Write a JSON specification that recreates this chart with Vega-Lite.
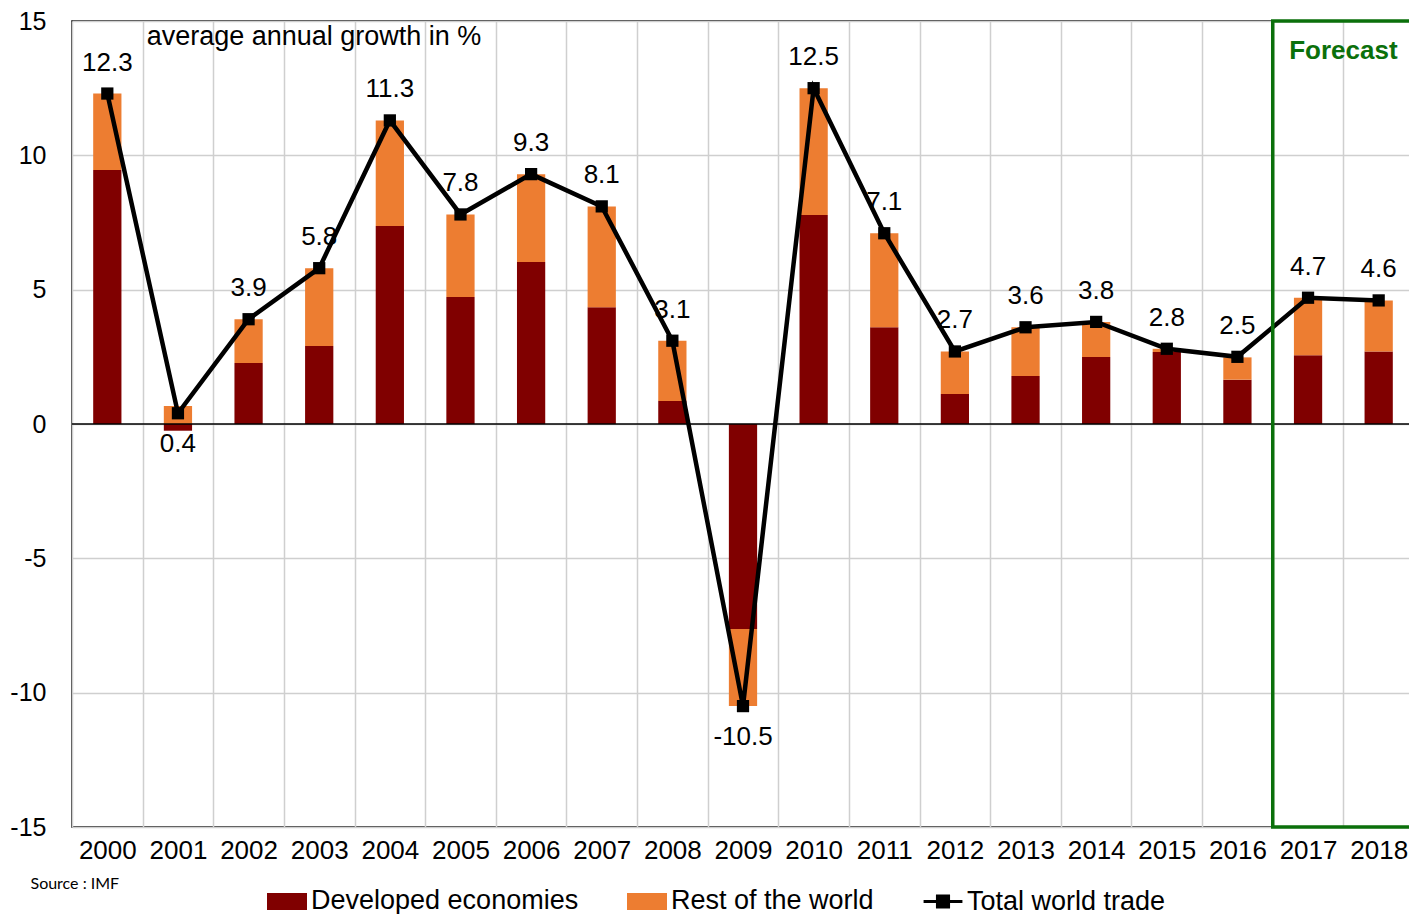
{
  "$schema": "https://vega.github.io/schema/vega-lite/v6.json",
  "autosize": {"type": "none"},
  "padding": {"left": 72, "top": 21, "right": 0, "bottom": 87},
  "width": 1342,
  "height": 806,
  "background": "white",
  "config": {
    "font": "Liberation Sans",
    "view": {"stroke": "black", "strokeWidth": 1.5},
    "axis": {"labelColor": "black", "labelFont": "Liberation Sans"}
  },
  "datasets": {
    "bars": [
      {"year": "2000", "series": "Developed economies", "value": 9.45},
      {"year": "2000", "series": "Rest of the world", "value": 2.85},
      {"year": "2001", "series": "Developed economies", "value": -0.25},
      {"year": "2001", "series": "Rest of the world", "value": 0.67},
      {"year": "2002", "series": "Developed economies", "value": 2.27},
      {"year": "2002", "series": "Rest of the world", "value": 1.63},
      {"year": "2003", "series": "Developed economies", "value": 2.9},
      {"year": "2003", "series": "Rest of the world", "value": 2.9},
      {"year": "2004", "series": "Developed economies", "value": 7.37},
      {"year": "2004", "series": "Rest of the world", "value": 3.93},
      {"year": "2005", "series": "Developed economies", "value": 4.73},
      {"year": "2005", "series": "Rest of the world", "value": 3.07},
      {"year": "2006", "series": "Developed economies", "value": 6.03},
      {"year": "2006", "series": "Rest of the world", "value": 3.27},
      {"year": "2007", "series": "Developed economies", "value": 4.35},
      {"year": "2007", "series": "Rest of the world", "value": 3.75},
      {"year": "2008", "series": "Developed economies", "value": 0.86},
      {"year": "2008", "series": "Rest of the world", "value": 2.24},
      {"year": "2009", "series": "Developed economies", "value": -7.63},
      {"year": "2009", "series": "Rest of the world", "value": -2.87},
      {"year": "2010", "series": "Developed economies", "value": 7.78},
      {"year": "2010", "series": "Rest of the world", "value": 4.72},
      {"year": "2011", "series": "Developed economies", "value": 3.6},
      {"year": "2011", "series": "Rest of the world", "value": 3.5},
      {"year": "2012", "series": "Developed economies", "value": 1.12},
      {"year": "2012", "series": "Rest of the world", "value": 1.58},
      {"year": "2013", "series": "Developed economies", "value": 1.79},
      {"year": "2013", "series": "Rest of the world", "value": 1.81},
      {"year": "2014", "series": "Developed economies", "value": 2.49},
      {"year": "2014", "series": "Rest of the world", "value": 1.31},
      {"year": "2015", "series": "Developed economies", "value": 2.68},
      {"year": "2015", "series": "Rest of the world", "value": 0.12},
      {"year": "2016", "series": "Developed economies", "value": 1.65},
      {"year": "2016", "series": "Rest of the world", "value": 0.83},
      {"year": "2017", "series": "Developed economies", "value": 2.56},
      {"year": "2017", "series": "Rest of the world", "value": 2.14},
      {"year": "2018", "series": "Developed economies", "value": 2.7},
      {"year": "2018", "series": "Rest of the world", "value": 1.9}
    ],
    "totals": [
      {"year": "2000", "total": 12.3},
      {"year": "2001", "total": 0.4},
      {"year": "2002", "total": 3.9},
      {"year": "2003", "total": 5.8},
      {"year": "2004", "total": 11.3},
      {"year": "2005", "total": 7.8},
      {"year": "2006", "total": 9.3},
      {"year": "2007", "total": 8.1},
      {"year": "2008", "total": 3.1},
      {"year": "2009", "total": -10.5},
      {"year": "2010", "total": 12.5},
      {"year": "2011", "total": 7.1},
      {"year": "2012", "total": 2.7},
      {"year": "2013", "total": 3.6},
      {"year": "2014", "total": 3.8},
      {"year": "2015", "total": 2.8},
      {"year": "2016", "total": 2.5},
      {"year": "2017", "total": 4.7},
      {"year": "2018", "total": 4.6}
    ]
  },
  "layer": [
    {
      "data": {"name": "bars"},
      "mark": {"type": "bar", "width": {"band": 0.4}},
      "encoding": {
        "x": {
          "field": "year", "type": "nominal", "sort": null,
          "scale": {"paddingInner": 0, "paddingOuter": 0},
          "axis": {
            "title": "Source : IMF",
            "titleX": -42, "titleY": 56, "titleAlign": "left", "titleBaseline": "middle",
            "titleFont": "Lato", "titleFontSize": 16, "titleFontWeight": "normal", "titleColor": "black",
            "labelAngle": 0, "labelFontSize": 26, "labelPadding": 10,
            "ticks": false, "domain": false, "tickBand": "extent",
            "grid": true, "gridColor": "#CFCFCF", "gridWidth": 1.5
          }
        },
        "y": {
          "field": "value", "type": "quantitative", "stack": "zero",
          "scale": {"domain": [-15, 15], "nice": false},
          "axis": {
            "title": null, "values": [-15, -10, -5, 0, 5, 10, 15],
            "labelExpr": "replace(datum.label, '\u2212', '-')",
            "labelFontSize": 25, "labelPadding": 26, "ticks": false, "domain": false,
            "grid": true, "gridColor": "#CFCFCF", "gridWidth": 1.5
          }
        },
        "color": {
          "field": "series", "type": "nominal",
          "scale": {
            "domain": ["Developed economies", "Rest of the world", "Total world trade"],
            "range": ["#800000", "#ED7D31", "#000000"]
          },
          "legend": {
            "title": null, "orient": "none", "direction": "horizontal",
            "legendX": 195, "legendY": 860, "padding": 0,
            "labelFontSize": 27, "labelFont": "Liberation Sans", "labelColor": "black", "labelLimit": 500,
            "labelOffset": 4, "columnPadding": 43, "symbolSize": 1369,
            "encode": {
              "symbols": {
                "update": {
                  "shape": {"signal": "datum.value === 'Total world trade' ? 'M-1.05,0H1.05M-0.3,-0.3H0.3V0.3H-0.3Z' : 'M-1,-0.38H1V0.38H-1Z'"},
                  "fill": {"scale": "color", "field": "value"},
                  "stroke": {"signal": "datum.value === 'Total world trade' ? 'black' : 'transparent'"},
                  "strokeWidth": {"value": 3},
                  "opacity": {"value": 1}
                }
              }
            }
          }
        },
        "order": {"field": "series", "sort": "ascending"}
      }
    },
    {
      "data": {"values": [{"zero": 0}]},
      "mark": {"type": "rule", "color": "black", "strokeWidth": 1.5},
      "encoding": {"y": {"field": "zero", "type": "quantitative", "title": null}}
    },
    {
      "data": {"name": "totals"},
      "mark": {"type": "line", "strokeWidth": 4.5, "strokeJoin": "miter"},
      "encoding": {
        "x": {"field": "year", "type": "nominal", "sort": null},
        "y": {"field": "total", "type": "quantitative", "title": null},
        "color": {"datum": "Total world trade"}
      }
    },
    {
      "data": {"name": "totals"},
      "mark": {"type": "point", "shape": "square", "filled": true, "size": 150, "color": "black", "opacity": 1},
      "encoding": {
        "x": {"field": "year", "type": "nominal", "sort": null},
        "y": {"field": "total", "type": "quantitative", "title": null}
      }
    },
    {
      "data": {"name": "totals"},
      "transform": [{"filter": "datum.total >= 1"}],
      "mark": {"type": "text", "fontSize": 26, "font": "Liberation Sans", "color": "black", "baseline": "middle", "dy": -31},
      "encoding": {
        "x": {"field": "year", "type": "nominal", "sort": null},
        "y": {"field": "total", "type": "quantitative", "title": null},
        "text": {"field": "total", "type": "nominal"}
      }
    },
    {
      "data": {"name": "totals"},
      "transform": [{"filter": "datum.total < 1"}],
      "mark": {"type": "text", "fontSize": 26, "font": "Liberation Sans", "color": "black", "baseline": "middle", "dy": 31},
      "encoding": {
        "x": {"field": "year", "type": "nominal", "sort": null},
        "y": {"field": "total", "type": "quantitative", "title": null},
        "text": {"field": "total", "type": "nominal"}
      }
    },
    {
      "data": {"values": [{"a": "2017", "b": "2018", "top": 15, "bottom": -15}]},
      "mark": {"type": "rect", "fill": null, "fillOpacity": 0, "stroke": "#0B700B", "strokeWidth": 3.5},
      "encoding": {
        "x": {"field": "a", "type": "nominal", "bandPosition": 0},
        "x2": {"field": "b", "bandPosition": 1},
        "y": {"field": "top", "type": "quantitative", "title": null},
        "y2": {"field": "bottom"}
      }
    },
    {
      "data": {"values": [{"label": "Forecast", "year": "2018", "v": 15}]},
      "mark": {"type": "text", "fontSize": 26, "fontWeight": "bold", "font": "Liberation Sans", "color": "#0B700B", "baseline": "middle", "dy": 30},
      "encoding": {
        "x": {"field": "year", "type": "nominal", "bandPosition": 0},
        "y": {"field": "v", "type": "quantitative", "title": null},
        "text": {"field": "label"}
      }
    },
    {
      "data": {"values": [{"label": "average annual growth in %", "year": "2001", "v": 15}]},
      "mark": {"type": "text", "fontSize": 27, "font": "Liberation Sans", "color": "black", "baseline": "middle", "align": "left", "dx": 4, "dy": 16},
      "encoding": {
        "x": {"field": "year", "type": "nominal", "bandPosition": 0},
        "y": {"field": "v", "type": "quantitative", "title": null},
        "text": {"field": "label"}
      }
    }
  ]
}
